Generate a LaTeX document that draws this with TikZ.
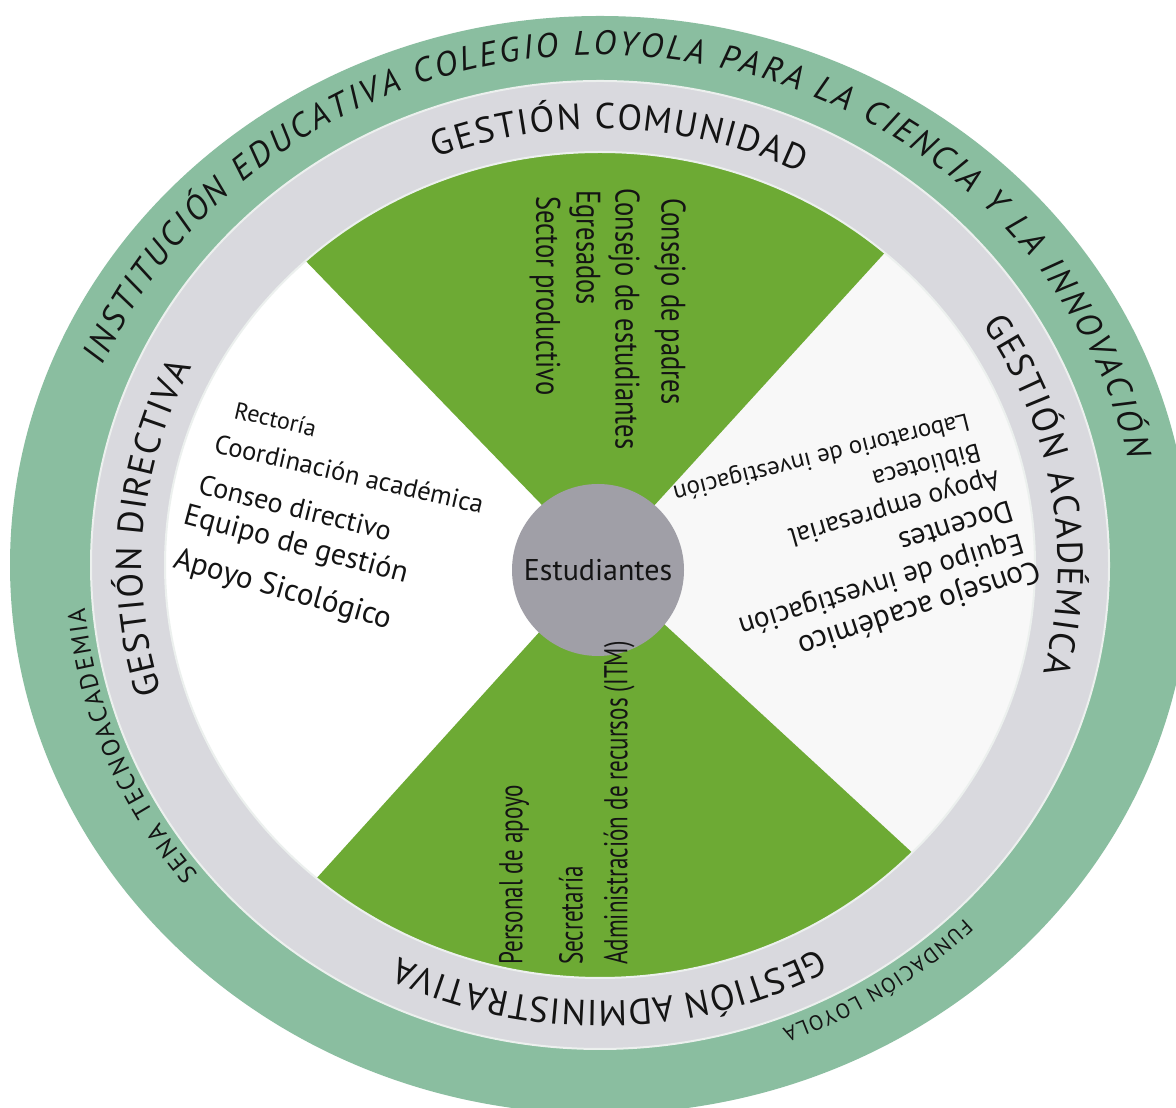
\documentclass[tikz,border=0pt]{standalone}
\usepackage{fontspec}
\setmainfont{PT Sans}
\newfontfamily\condA[FakeStretch=0.78]{PT Sans}
\newfontfamily\condB[FakeStretch=0.7]{PT Sans}
\usetikzlibrary{decorations.text}
\definecolor{outerring}{RGB}{138,190,160}
\definecolor{greyring}{RGB}{217,217,222}
\definecolor{sectgreen}{RGB}{109,170,52}
\definecolor{centergrey}{RGB}{160,159,167}
\definecolor{rightbg}{RGB}{248,248,248}
\definecolor{edgeline}{RGB}{236,240,238}
\definecolor{inktext}{RGB}{20,20,20}
\newcommand{\ringtext}[6]{%
  \path[decorate, decoration={text along path, text align=fit to path, text color=inktext, text={|#5|#6}}]
    ([shift={(#1:#3 and #4)}]C) arc[start angle=#1, end angle=#2, x radius=#3, y radius=#4];}
\newcommand{\fs}[1]{\fontsize{#1}{#1}\selectfont}
\begin{document}
\begin{tikzpicture}[x=1pt, y=1pt,
  item/.style={inner sep=0pt, text=inktext},
  lefttxt/.style={item, anchor=base west},
  righttxt/.style={item, anchor=base west},
  toptxt/.style={item, anchor=west, rotate=-90},
  bottxt/.style={item, anchor=west, rotate=90},
  edge/.style={draw=edgeline, line width=2pt}
]
\useasboundingbox (0,0) rectangle (1176,1108);
\clip (0,0) rectangle (1176,1108);
\fill[white] (0,0) rectangle (1176,1108);
\coordinate (C) at (600,543);
% rings
\fill[outerring] (C) ellipse [x radius=590, y radius=549];
\fill[greyring, edge] (C) ellipse [x radius=509, y radius=484];
\fill[white] (C) ellipse [x radius=435, y radius=413];
\begin{scope}
  \clip (C) ellipse [x radius=435, y radius=413];
  \fill[rightbg] (600,0) rectangle (1176,1108);
  \fill[sectgreen] (C) -- (0,1163) -- (1160,1157) -- cycle;
  \fill[sectgreen] (C) -- (30,-87) -- (1236,-43) -- cycle;
\end{scope}
\draw[edge] (C) ellipse [x radius=435, y radius=413];
% centre
\node[circle, fill=centergrey, minimum size=172pt, inner sep=0pt, text=inktext, font=\fs{30}] (estu) at (598,538) {Estudiantes};
% outer ring texts
\ringtext{157}{12}{540}{510}{\fs{34}\itshape}{INSTITUCIÓN EDUCATIVA COLEGIO LOYOLA PARA LA CIENCIA Y LA INNOVACIÓN}
\ringtext{219}{185}{517}{492}{\fs{25}}{SENA TECNOACADEMIA}
\ringtext{-45.5}{-69.5}{520}{495}{\fs{21}}{FUNDACIÓN LOYOLA}
% grey ring texts
\ringtext{111}{64}{458}{436}{\fs{36}}{GESTIÓN COMUNIDAD}
\ringtext{33.5}{-14.3}{458}{436}{\fs{36}}{GESTIÓN ACADÉMICA}
\ringtext{-61.5}{-116}{458}{436}{\fs{36}}{GESTIÓN ADMINISTRATIVA}
\ringtext{197}{153}{458}{436}{\fs{36}}{GESTIÓN DIRECTIVA}
% left sector
\node[lefttxt, rotate=-13, font=\fs{24}] (rec) at (233,690) {Rectoría};
\node[lefttxt, rotate=-13, font=\fs{26.5}] (coo) at (213,656) {Coordinación académica};
\node[lefttxt, rotate=-14, font=\fs{28}] (cons) at (197,615) {Conseo directivo};
\node[lefttxt, rotate=-15, font=\fs{30}] (equg) at (182,585) {Equipo de gestión};
\node[lefttxt, rotate=-16, font=\fs{31}] (apsi) at (172,541) {Apoyo Sicológico};
% right sector
\node[righttxt, rotate=194, font=\fs{25}] (lab) at (967,695) {Laboratorio de investigación};
\node[righttxt, rotate=195, font=\fs{26}] (bib) at (978,665) {Biblioteca};
\node[righttxt, rotate=196, font=\fs{27.5}] (apem) at (997,638) {Apoyo empresarial};
\node[righttxt, rotate=197, font=\fs{30}] (doc) at (1010,608) {Docentes};
\node[righttxt, rotate=197, font=\fs{29}] (eqin) at (1020,575) {Equipo de investigación};
\node[righttxt, rotate=198, font=\fs{31}] (coac) at (1037,548) {Consejo académico};
% top sector
\node[toptxt, font=\condA\fs{34}] (cpad) at (670,910) {Consejo de padres};
\node[toptxt, font=\condA\fs{34}] (cest) at (624,920) {Consejo de estudiantes};
\node[toptxt, font=\condA\fs{34}] (egre) at (585,918) {Egresados};
\node[toptxt, font=\condA\fs{34}] (sect) at (545,912) {Sector productivo};
% bottom sector
\node[bottxt, font=\condB\fs{33}] (pers) at (514,143) {Personal de apoyo};
\node[bottxt, font=\condB\fs{33}] (secr) at (571,143) {Secretaría};
\node[bottxt, font=\condB\fs{33}] (admr) at (619,143) {Administración de recursos (ITM)};
\end{tikzpicture}
\end{document}
